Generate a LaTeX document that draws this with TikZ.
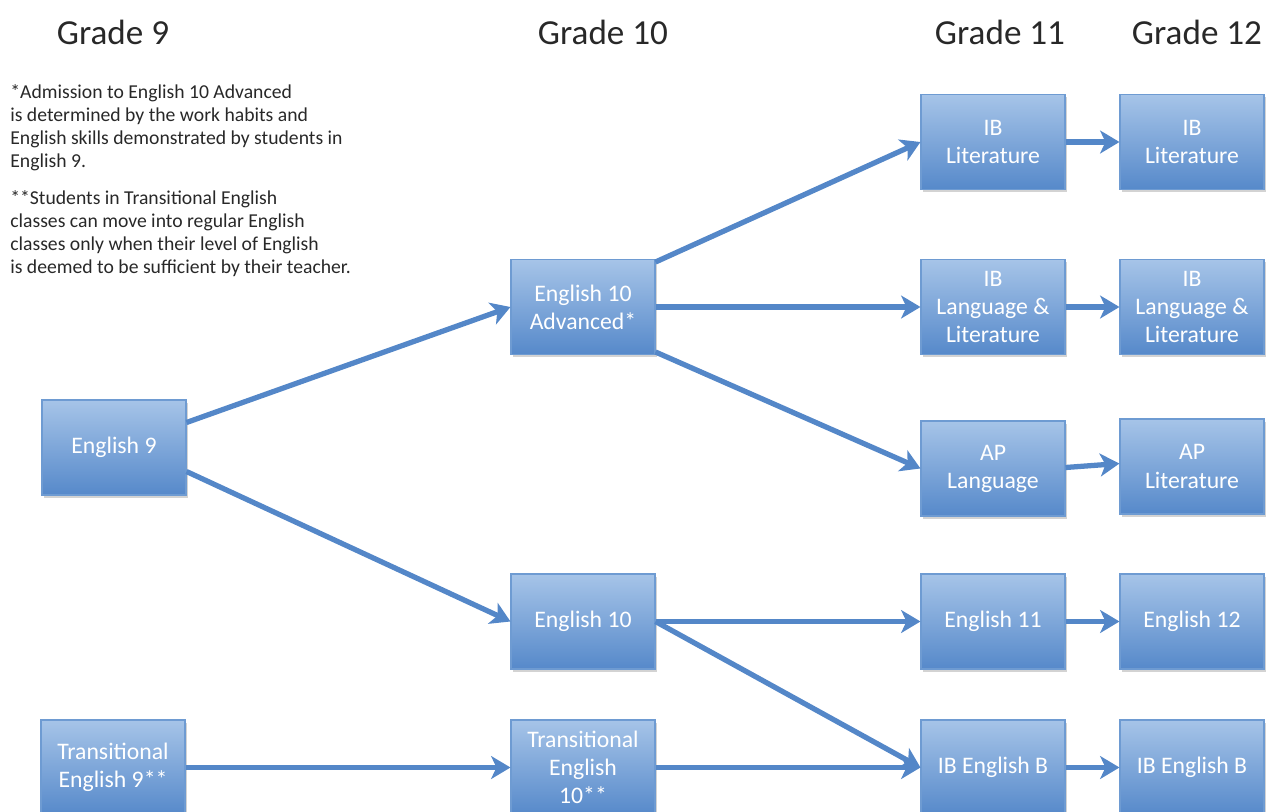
\documentclass[tikz,border=0pt]{standalone}
\usepackage{fontspec}
\setmainfont{Carlito}
\usetikzlibrary{arrows.meta,shadows,calc}
\definecolor{boxtop}{RGB}{166,196,232}
\definecolor{boxbot}{RGB}{86,137,202}
\definecolor{boxline}{RGB}{110,155,210}
\definecolor{arrowc}{RGB}{84,135,200}
\definecolor{headc}{RGB}{40,40,40}
\tikzset{
  course/.style={rectangle, minimum width=2.88cm, minimum height=1.9cm,
    top color=boxtop, bottom color=boxbot, draw=boxline, line width=0.6pt,
    text=white, align=center, inner sep=2pt,
    font=\fontsize{13.5}{16}\selectfont,
    drop shadow={opacity=0.35, shadow xshift=1.2pt, shadow yshift=-1.5pt}},
  head/.style={font=\fontsize{20}{24}\selectfont, text=headc},
  note/.style={font=\fontsize{11.2}{13.1}\selectfont, align=left, anchor=north west, inner sep=0pt, text=headc},
  flow/.style={draw=arrowc, line width=3pt, -{Stealth[length=11pt,width=13pt,inset=3pt]}}
}
\begin{document}
\begin{tikzpicture}[x=0.02cm,y=-0.02cm]
\useasboundingbox (0,0) rectangle (1269,812);
% headings
\node[head] (g9) at (113,32) {Grade 9};
\node[head] (g10) at (603,32) {Grade 10};
\node[head] (g11) at (1000,32) {Grade 11};
\node[head] (g12) at (1197,32) {Grade 12};
% notes
\node[note] (n1) at (10,84) {*Admission to English 10 Advanced\\is determined by the work habits and\\English skills demonstrated by students in\\English 9.};
\node[note] (n2) at (10,190) {**Students in Transitional English\\classes can move into regular English\\classes only when their level of English\\is deemed to be sufficient by their teacher.};
% boxes
\node[course] (e9) at (114,447.5) {English 9};
\node[course] (te9) at (113,767.5) {Transitional\\English 9**};
\node[course] (e10a) at (583,307) {English 10\\Advanced*};
\node[course] (e10) at (583,621.5) {English 10};
\node[course] (te10) at (583,767.5) {Transitional\\English\\10**};
\node[course] (ibl11) at (993,142) {IB\\Literature};
\node[course] (ibll11) at (993,307) {IB\\Language \&\\Literature};
\node[course] (apl) at (993,468.5) {AP\\Language};
\node[course] (e11) at (993,621.5) {English 11};
\node[course] (ibb11) at (993,767.5) {IB English B};
\node[course] (ibl12) at (1192,142) {IB\\Literature};
\node[course] (ibll12) at (1192,307) {IB\\Language \&\\Literature};
\node[course] (aplit) at (1192,466.5) {AP\\Literature};
\node[course] (e12) at (1192,621.5) {English 12};
\node[course] (ibb12) at (1192,767.5) {IB English B};
% connectors
\draw[flow] ($(e9.east)+(0,-25)$) -- (e10a.west);
\draw[flow] ($(e9.east)+(0,24)$) -- (e10.west);
\draw[flow] (te9.east) -- (te10.west);
\draw[flow] ($(e10a.east)+(0,-45)$) -- (ibl11.west);
\draw[flow] (e10a.east) -- (ibll11.west);
\draw[flow] ($(e10a.east)+(0,45)$) -- (apl.west);
\draw[flow] (e10.east) -- (e11.west);
\draw[flow] (e10.east) -- (ibb11.west);
\draw[flow] (te10.east) -- (ibb11.west);
\draw[flow] (ibl11.east) -- (ibl12.west);
\draw[flow] (ibll11.east) -- (ibll12.west);
\draw[flow] ($(apl.east)+(0,-1)$) -- ($(aplit.west)+(0,-3)$);
\draw[flow] (e11.east) -- (e12.west);
\draw[flow] (ibb11.east) -- (ibb12.west);
\end{tikzpicture}
\end{document}
